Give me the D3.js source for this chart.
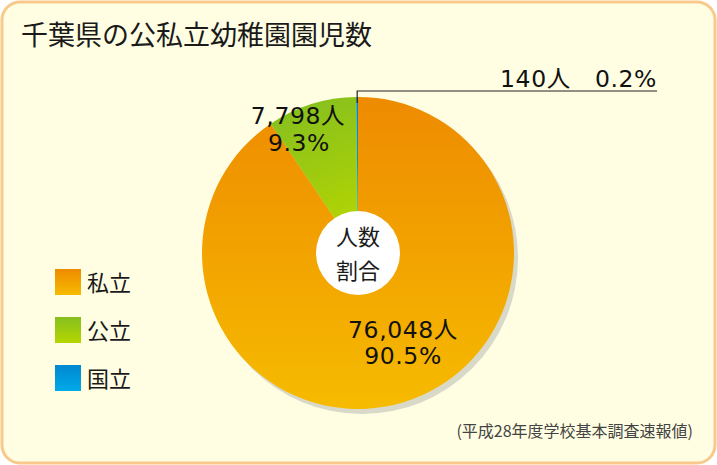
<!DOCTYPE html>
<html><head><meta charset="utf-8">
<script src="https://cdn.jsdelivr.net/npm/d3@7"></script>
<style>body{margin:0;background:#fff}svg{display:block}</style>
</head><body>
<script>
const categories = ["私立", "公立", "国立"];
const values = [76048, 7798, 140];
const valueLabels = ["76,048人", "7,798人", "140人"];
const percentLabels = ["90.5%", "9.3%", "0.2%"];
const title = "千葉県の公私立幼稚園園児数";
const centerLines = ["人数", "割合"];
const note = "(平成28年度学校基本調査速報値)";

const W = 717, H = 465;
const cx = 358, cy = 253, R = 156;
const numFont = "'DejaVu Sans','Noto Sans CJK JP',sans-serif";
const jpFont = "'Noto Sans CJK JP','Noto Sans',sans-serif";

const svg = d3.select("body").append("svg").attr("width", W).attr("height", H);
const defs = svg.append("defs");

function grad(id, c1, c2, x1, y1, x2, y2, user) {
  const g = defs.append("linearGradient").attr("id", id)
    .attr("x1", x1).attr("y1", y1).attr("x2", x2).attr("y2", y2);
  if (user) g.attr("gradientUnits", "userSpaceOnUse");
  g.append("stop").attr("offset", "0%").attr("stop-color", c1);
  g.append("stop").attr("offset", "100%").attr("stop-color", c2);
}
const colors = [["#ee8b00", "#f6bb00"], ["#85bf1f", "#b6d600"], ["#0088d0", "#00aae8"]];
// slice gradients, coordinates relative to the pie centre
grad("s0", colors[0][0], colors[0][1], 0, -R, 0, R, true);
grad("s1", colors[1][0], colors[1][1], -60, -R, 0, -20, true);
grad("s2", colors[2][0], colors[2][1], 0, -R, 0, 0, true);
colors.forEach((c, i) => grad("l" + i, c[0], c[1], "0%", "0%", "0%", "100%", false));

// background panel
svg.append("rect").attr("x", 2).attr("y", 2).attr("width", W - 4).attr("height", H - 4)
  .attr("rx", 18).attr("ry", 18)
  .attr("fill", "#fffee2").attr("stroke", "#f9c98b").attr("stroke-width", 3);

// title
svg.append("text").attr("x", 21).attr("y", 45).text(title)
  .attr("font-family", jpFont).attr("font-size", 27).attr("fill", "#1a1a1a");

// pie shadow
svg.append("circle").attr("cx", cx + 4).attr("cy", cy + 5).attr("r", R)
  .attr("fill", "#d9d9c9");

const pie = d3.pie().sort(null).value(d => d)(values);
const arc = d3.arc().innerRadius(0).outerRadius(R);
svg.append("g").attr("transform", `translate(${cx},${cy})`)
  .selectAll("path").data(pie).join("path")
  .attr("d", arc)
  .attr("fill", (d, i) => `url(#s${i})`);

// centre circle
svg.append("circle").attr("cx", cx).attr("cy", cy).attr("r", 42).attr("fill", "#ffffff");
centerLines.forEach((t, i) => {
  svg.append("text").attr("x", cx).attr("y", 245 + i * 34).attr("text-anchor", "middle").text(t)
    .attr("font-family", jpFont).attr("font-size", 22).attr("fill", "#1a1a1a");
});

// slice labels
function label(x, y, txt, anchor) {
  svg.append("text").attr("x", x).attr("y", y).attr("text-anchor", anchor || "middle").text(txt)
    .attr("font-family", numFont).attr("font-size", 23.5)
    .attr("fill", "#111").attr("letter-spacing", 0.6);
}
label(403, 338, valueLabels[0]);
label(403, 364, percentLabels[0]);
label(298, 124, valueLabels[1]);
label(299, 151, percentLabels[1]);
label(657, 87, valueLabels[2] + "\u3000" + percentLabels[2], "end");

// leader line for the tiny national slice
const a2 = pie[2];
const mid = (a2.startAngle + a2.endAngle) / 2;
const px = cx + Math.sin(mid) * R, py = cy - Math.cos(mid) * R;
svg.append("path")
  .attr("d", `M${px},${py + 6}V91H657`)
  .attr("fill", "none").attr("stroke", "#222").attr("stroke-width", 1.2);

// legend
categories.forEach((c, i) => {
  const y = 269 + i * 48;
  svg.append("rect").attr("x", 55).attr("y", y).attr("width", 26).attr("height", 26)
    .attr("fill", `url(#l${i})`);
  svg.append("text").attr("x", 87).attr("y", y + 22).text(c)
    .attr("font-family", jpFont).attr("font-size", 22).attr("fill", "#1a1a1a");
});

// note
svg.append("text").attr("x", 693).attr("y", 437).attr("text-anchor", "end").text(note)
  .attr("font-family", jpFont).attr("font-size", 16).attr("fill", "#444");
</script>
</body></html>
